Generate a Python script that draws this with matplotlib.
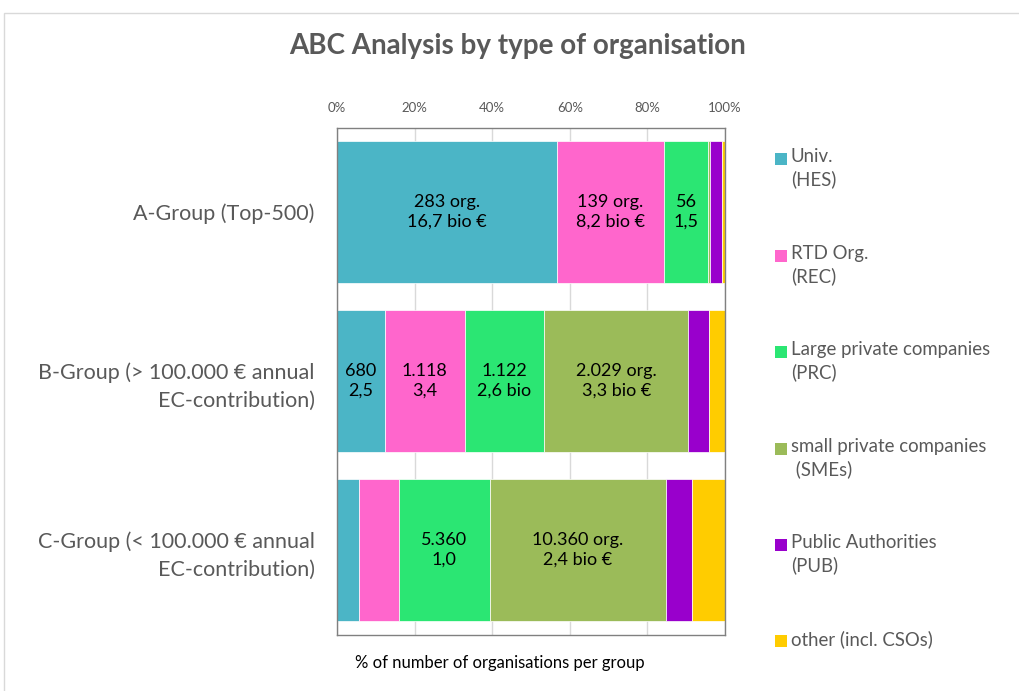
import numpy as np
import matplotlib.pyplot as plt
from matplotlib.patches import Rectangle

plt.rcParams['font.family'] = ['Lato', 'DejaVu Sans']

# groups, top to bottom
groups = ["A-Group (Top-500)",
          "B-Group (> 100.000 € annual\nEC-contribution)",
          "C-Group (< 100.000 € annual\nEC-contribution)"]

# % of number of organisations per group
univ = [56.6, 12.4, 5.7]
rtd = [27.8, 20.5, 10.2]
prc = [11.2, 20.5, 23.5]
smes = [0.6, 37.1, 45.3]
pub = [2.9, 5.5, 6.8]
other = [0.9, 3.9, 8.5]

series = [univ, rtd, prc, smes, pub, other]
legend_labels = ["Univ.\n(HES)", "RTD Org.\n(REC)", "Large private companies\n(PRC)",
                 "small private companies\n (SMEs)", "Public Authorities\n(PUB)",
                 "other (incl. CSOs)"]
colors = ["#4BB5C6", "#FF66CC", "#2BE673", "#9BBB59", "#9900CC", "#FFCC00"]

# text inside the bars: (group, series) -> label
bar_texts = {
    (0, 0): "283 org.\n16,7 bio €",
    (0, 1): "139 org.\n8,2 bio €",
    (0, 2): "56\n1,5",
    (1, 0): "680\n2,5",
    (1, 1): "1.118\n3,4",
    (1, 2): "1.122\n2,6 bio",
    (1, 3): "2.029 org.\n3,3 bio €",
    (2, 2): "5.360\n1,0",
    (2, 3): "10.360 org.\n2,4 bio €",
}

W, H = 1019, 691
fig = plt.figure(figsize=(W / 100, H / 100), dpi=100)

# outer chart border
fig.patches.append(Rectangle((4 / W, -0.1), 1.2, 1 - 13 / H + 0.1, transform=fig.transFigure,
                             fill=False, edgecolor="#D9D9D9", linewidth=1))

ax = fig.add_axes([337 / W, 1 - 634.5 / H, 388 / W, 507 / H])

y = np.arange(len(groups))
left = np.zeros(len(groups))
for i, vals in enumerate(series):
    ax.barh(y, vals, left=left, height=0.835, color=colors[i],
            edgecolor="white", linewidth=0.5, zorder=2)
    for g in range(len(groups)):
        if (g, i) in bar_texts:
            ax.text(left[g] + vals[g] / 2, y[g], bar_texts[(g, i)], ha="center", va="center",
                    fontsize=13, color="black", linespacing=1.3, zorder=3)
    left += np.array(vals)

ax.set_xlim(0, 100)
ax.set_ylim(len(groups) - 0.5, -0.5)
ax.xaxis.tick_top()
ax.set_xticks(np.arange(0, 101, 20))
ax.set_xticklabels([f"{v}%" for v in range(0, 101, 20)])
ax.tick_params(axis="x", length=0, pad=10, labelsize=9.5, colors="#595959")
ax.set_yticks(y)
ax.set_yticklabels(groups, fontsize=15.5, color="#595959", linespacing=1.5)
ax.tick_params(axis="y", length=0, pad=16)
ax.grid(axis="x", color="#D9D9D9", linewidth=1, zorder=0)
for s in ax.spines.values():
    s.set_color("#808080")
    s.set_linewidth(1)

fig.text(500 / W, 1 - 663 / H, "% of number of organisations per group", ha="center", va="center",
         fontsize=12, color="black")
fig.text(518 / W, 1 - 46 / H, "ABC Analysis by type of organisation", ha="center", va="center",
         fontsize=20, fontweight="bold", color="#595959")

# legend
leg_y = [159, 256, 352, 449, 545, 641]
for i, lab in enumerate(legend_labels):
    yy = leg_y[i]
    fig.patches.append(Rectangle((775 / W, 1 - (yy + 6) / H), 12 / W, 12 / H,
                                 transform=fig.transFigure, facecolor=colors[i], edgecolor="none"))
    fig.text(791 / W, 1 - (yy - 11) / H, lab, ha="left", va="top", fontsize=13.4,
             color="#595959", linespacing=1.32)

plt.savefig("out.png", dpi=100)
